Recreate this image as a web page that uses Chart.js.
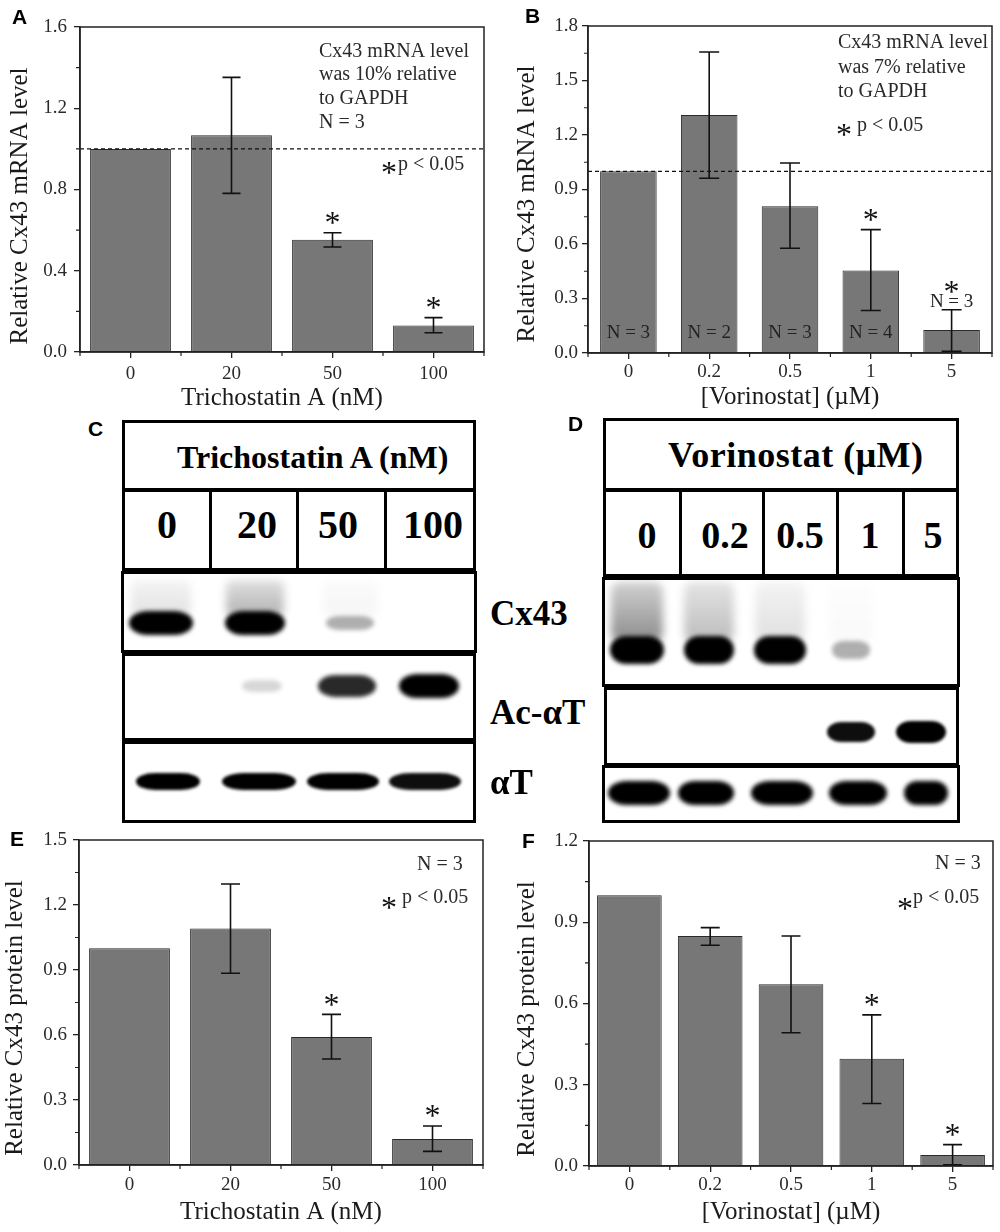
<!DOCTYPE html>
<html><head><meta charset="utf-8">
<script src="https://cdn.jsdelivr.net/npm/chart.js@4.4.1/dist/chart.umd.min.js"></script>
<style>
html,body{margin:0;padding:0;background:#fff;}
body{width:1000px;height:1232px;position:relative;overflow:hidden;font-family:"Liberation Serif","Times New Roman",serif;}
canvas{position:absolute;}
.letter{position:absolute;font-family:"Liberation Sans",Arial,sans-serif;font-weight:bold;font-size:21px;line-height:1;transform:translateY(-50%);}
.box{position:absolute;border:3px solid #000;box-sizing:border-box;overflow:hidden;background:#fff;}
.div{position:absolute;width:3px;background:#000;}
.band{position:absolute;border-radius:30%/50%;}
.t{position:absolute;font-weight:bold;line-height:1;white-space:nowrap;color:#000;}
</style>
</head><body>
<canvas id="cA" width="490" height="415" style="left:0;top:0"></canvas>
<canvas id="cB" width="510" height="415" style="left:490px;top:0"></canvas>
<canvas id="cE" width="490" height="432" style="left:0;top:800px"></canvas>
<canvas id="cF" width="510" height="432" style="left:490px;top:800px"></canvas>
<script>
// ---------- data ----------
const tsaDoses = ['0', '20', '50', '100'];
const vorDoses = ['0', '0.2', '0.5', '1', '5'];

const mrnaTsa   = [1.0, 1.067, 0.553, 0.131];
const mrnaTsaHi = [1.0, 1.352, 0.587, 0.169];
const mrnaTsaLo = [1.0, 0.781, 0.517, 0.095];
const mrnaTsaSig = [false, false, true, true];

const mrnaVor   = [1.0, 1.31, 0.808, 0.454, 0.126];
const mrnaVorHi = [1.0, 1.657, 1.046, 0.679, 0.238];
const mrnaVorLo = [1.0, 0.962, 0.577, 0.234, 0.009];
const mrnaVorSig = [false, false, false, true, true];
const mrnaVorN = ['N = 3', 'N = 2', 'N = 3', 'N = 4', 'N = 3'];

const protTsa   = [1.0, 1.092, 0.591, 0.12];
const protTsaHi = [1.0, 1.297, 0.695, 0.18];
const protTsaLo = [1.0, 0.885, 0.489, 0.063];
const protTsaSig = [false, false, true, true];

const protVor   = [1.0, 0.849, 0.671, 0.396, 0.041];
const protVorHi = [1.0, 0.88, 0.849, 0.558, 0.079];
const protVorLo = [1.0, 0.815, 0.492, 0.231, 0.004];
const protVorSig = [false, false, false, true, true];

// blot band intensities (0..1)
const blotTsaCx43      = [1.0, 1.0, 0.3, 0.0];
const blotTsaCx43Smear = [0.15, 0.4, 0.05, 0.0];
const blotTsaAcTub     = [0.0, 0.15, 0.8, 1.0];
const blotTsaTub       = [1.0, 0.95, 0.95, 0.9];
const blotVorCx43      = [1.0, 1.0, 0.95, 0.3, 0.0];
const blotVorCx43Smear = [0.6, 0.35, 0.16, 0.03, 0.0];
const blotVorAcTub     = [0.0, 0.0, 0.0, 0.9, 1.0];
const blotVorTub       = [1.0, 1.0, 1.0, 1.0, 0.95];

const SERIF = '"Liberation Serif","Times New Roman",serif';

// ---------- chart decoration plugin ----------
function drawStar(ctx, x, cy, size){
  ctx.font = size + 'px ' + SERIF;
  ctx.textAlign = 'center'; ctx.textBaseline = 'alphabetic';
  ctx.fillText('*', x, cy + 0.48 * size);
}
function decor(cfg){
  return {
    id: 'decor',
    afterDatasetsDraw(chart){
      const ctx = chart.ctx, xs = chart.scales.x, ys = chart.scales.y, ca = chart.chartArea;
      ctx.save();
      if (cfg.refLine != null){
        const py = ys.getPixelForValue(cfg.refLine);
        ctx.setLineDash([4, 3]); ctx.lineWidth = 1.1; ctx.strokeStyle = '#111';
        ctx.beginPath(); ctx.moveTo(ca.left, py); ctx.lineTo(ca.right, py); ctx.stroke();
        ctx.setLineDash([]);
      }
      ctx.strokeStyle = '#111'; ctx.lineWidth = 1.6;
      cfg.hi.forEach((h, i) => {
        const l = cfg.lo[i]; if (h === l) return;
        const px = xs.getPixelForValue(i), ph = ys.getPixelForValue(h), pl = ys.getPixelForValue(l);
        ctx.beginPath();
        ctx.moveTo(px, ph); ctx.lineTo(px, pl);
        ctx.moveTo(px - cfg.cap, ph); ctx.lineTo(px + cfg.cap, ph);
        ctx.moveTo(px - cfg.cap, pl); ctx.lineTo(px + cfg.cap, pl);
        ctx.stroke();
      });
      ctx.fillStyle = '#111';
      cfg.sig.forEach((s, i) => {
        if (!s) return;
        const labelAbove = cfg.nLabels && cfg.values[i] <= 0.2;
        drawStar(ctx, xs.getPixelForValue(i), ys.getPixelForValue(cfg.hi[i]) - (labelAbove ? 23 : 15), 32);
      });
      if (cfg.nLabels){
        ctx.font = '19px ' + SERIF; ctx.fillStyle = '#222';
        ctx.textAlign = 'center'; ctx.textBaseline = 'middle';
        cfg.nLabels.forEach((t, i) => {
          const px = xs.getPixelForValue(i);
          const py = cfg.values[i] > 0.2 ? ys.getPixelForValue(0) - 20 : ys.getPixelForValue(cfg.hi[i]) - 8;
          ctx.fillText(t, px, py);
        });
      }
      // frame
      ctx.lineWidth = 1.5; ctx.strokeStyle = '#222';
      ctx.strokeRect(ca.left, ca.top, ca.right - ca.left, ca.bottom - ca.top);
      // minor ticks on y
      ctx.lineWidth = 1.2;
      ctx.beginPath();
      const n = Math.round(cfg.max / cfg.minor);
      for (let k = 1; k < n; k++){
        const v = k * cfg.minor;
        if (Math.abs(v / cfg.step - Math.round(v / cfg.step)) < 1e-6) continue;
        const py = ys.getPixelForValue(v);
        ctx.moveTo(ca.left - 4, py); ctx.lineTo(ca.left, py);
      }
      // minor ticks on x at category boundaries
      const m = cfg.labels.length;
      for (let i = 0; i <= m; i++){
        let px;
        if (i === 0) px = ca.left; else if (i === m) px = ca.right;
        else px = (xs.getPixelForValue(i - 1) + xs.getPixelForValue(i)) / 2;
        ctx.moveTo(px, ca.bottom); ctx.lineTo(px, ca.bottom + 4);
      }
      ctx.stroke();
      // notes
      cfg.notes.forEach(nt => {
        if (nt.star){ ctx.fillStyle = '#111'; drawStar(ctx, nt.x, nt.y, 32); return; }
        ctx.fillStyle = '#2a2a2a'; ctx.textAlign = 'left'; ctx.textBaseline = 'middle';
        ctx.font = (nt.size || 20) + 'px ' + SERIF;
        ctx.fillText(nt.t, nt.x, nt.y);
      });
      // y title
      ctx.translate(cfg.yTitle.x, cfg.yTitle.y); ctx.rotate(-Math.PI / 2);
      ctx.font = '25px ' + SERIF; ctx.fillStyle = '#1a1a1a';
      ctx.textAlign = 'center'; ctx.textBaseline = 'middle';
      ctx.fillText(cfg.yTitle.text, 0, 0);
      ctx.restore();
    }
  };
}

function makeChart(id, cfg){
  const el = document.getElementById(id);
  const H = el.height, W = el.width;
  const tickFont = {family: SERIF, size: 19};
  return new Chart(el, {
    type: 'bar',
    data: {labels: cfg.labels, datasets: [{data: cfg.values, backgroundColor: '#777777', borderColor: '#2a2a2a', borderWidth: 1, barPercentage: cfg.barPct, categoryPercentage: 1}]},
    options: {
      responsive: false, animation: false, events: [],
      layout: {padding: {top: cfg.area.top, right: W - cfg.area.right, left: 0, bottom: 0}},
      plugins: {legend: {display: false}, tooltip: {enabled: false}},
      scales: {
        x: {
          type: 'category', offset: true,
          grid: {display: true, offset: false, drawOnChartArea: false, drawTicks: true, tickLength: 6, color: '#222', lineWidth: 1.3},
          border: {display: true, color: '#222', width: 1.5},
          ticks: {font: tickFont, color: '#2a2a2a', padding: cfg.xPad, maxRotation: 0, autoSkip: false},
          title: {display: true, text: cfg.xTitle, font: {family: SERIF, size: 25}, color: '#1a1a1a', padding: {top: 0, bottom: cfg.xTitlePad}},
          afterFit(s){ s.height = H - cfg.area.bottom; }
        },
        y: {
          type: 'linear', min: 0, max: cfg.max,
          ticks: {stepSize: cfg.step, callback: v => Number(v).toFixed(1), font: tickFont, color: '#2a2a2a', padding: cfg.yPad},
          grid: {drawOnChartArea: false, drawTicks: true, tickLength: 6, color: '#222', lineWidth: 1.3},
          border: {display: true, color: '#222', width: 1.5},
          afterFit(s){ s.width = cfg.area.left; }
        }
      }
    },
    plugins: [decor(cfg)]
  });
}

makeChart('cA', {
  labels: tsaDoses, values: mrnaTsa, hi: mrnaTsaHi, lo: mrnaTsaLo, sig: mrnaTsaSig,
  max: 1.6, step: 0.4, minor: 0.2, barPct: 0.8, cap: 9, refLine: 1.0,
  area: {left: 80, top: 27, right: 484, bottom: 352}, xPad: 5, yPad: 7, xTitlePad: 2,
  xTitle: 'Trichostatin A (nM)',
  yTitle: {text: 'Relative Cx43 mRNA level', x: 20, y: 206},
  notes: [
    {t: 'Cx43 mRNA level', x: 319, y: 52}, {t: 'was 10% relative', x: 319, y: 75},
    {t: 'to GAPDH', x: 319, y: 99}, {t: 'N = 3', x: 319, y: 123},
    {star: true, x: 389, y: 168}, {t: 'p < 0.05', x: 398, y: 165}
  ]
});
makeChart('cB', {
  labels: vorDoses, values: mrnaVor, hi: mrnaVorHi, lo: mrnaVorLo, sig: mrnaVorSig, nLabels: mrnaVorN,
  max: 1.8, step: 0.3, minor: 0.15, barPct: 0.7, cap: 10, refLine: 1.0,
  area: {left: 98, top: 26, right: 502, bottom: 353}, xPad: 2, yPad: 4, xTitlePad: 3,
  xTitle: '[Vorinostat] (\u00b5M)',
  yTitle: {text: 'Relative Cx43 mRNA level', x: 37, y: 204},
  notes: [
    {t: 'Cx43 mRNA level', x: 348, y: 43}, {t: 'was 7% relative', x: 348, y: 68},
    {t: 'to GAPDH', x: 348, y: 92},
    {star: true, x: 354, y: 130}, {t: 'p < 0.05', x: 367, y: 126}
  ]
});
makeChart('cE', {
  labels: tsaDoses, values: protTsa, hi: protTsaHi, lo: protTsaLo, sig: protTsaSig,
  max: 1.5, step: 0.3, minor: 0.15, barPct: 0.8, cap: 9.5, refLine: null,
  area: {left: 79, top: 40, right: 483, bottom: 365}, xPad: 3, yPad: 6, xTitlePad: 5,
  xTitle: 'Trichostatin A (nM)',
  yTitle: {text: 'Relative Cx43 protein level', x: 15, y: 218},
  notes: [
    {t: 'N = 3', x: 417, y: 65},
    {star: true, x: 389, y: 103}, {t: 'p < 0.05', x: 402, y: 98}
  ]
});
makeChart('cF', {
  labels: vorDoses, values: protVor, hi: protVorHi, lo: protVorLo, sig: protVorSig,
  max: 1.2, step: 0.3, minor: 0.15, barPct: 0.8, cap: 9.5, refLine: null,
  area: {left: 99, top: 41, right: 503, bottom: 366}, xPad: 2, yPad: 5, xTitlePad: 5,
  xTitle: '[Vorinostat] (\u00b5M)',
  yTitle: {text: 'Relative Cx43 protein level', x: 37, y: 219},
  notes: [
    {t: 'N = 3', x: 445, y: 64},
    {star: true, x: 415, y: 104}, {t: 'p < 0.05', x: 423, y: 98}
  ]
});

// ---------- western blot panels (HTML) ----------
function mk(cls, l, t, w, h, parent){
  const d = document.createElement('div'); d.className = cls;
  Object.assign(d.style, {left: l + 'px', top: t + 'px'});
  if (w != null) d.style.width = w + 'px';
  if (h != null) d.style.height = h + 'px';
  (parent || document.body).appendChild(d); return d;
}
function text(str, x, y, size, anchor, ls){
  const d = document.createElement('div'); d.className = 't'; d.textContent = str;
  d.style.fontSize = size + 'px';
  if (ls) d.style.letterSpacing = ls + 'px';
  d.style.left = x + 'px'; d.style.top = y + 'px';
  d.style.transform = anchor === 'center' ? 'translate(-50%,-50%)' : 'translateY(-50%)';
  document.body.appendChild(d); return d;
}
function bandRow(boxEl, boxL, boxT, lanes, widths, cy, h, vals, blur, hScale){
  vals.forEach((v, i) => {
    if (v <= 0) return;
    const w = widths[i] * (0.75 + 0.25 * v);
    const hh = h * (hScale ? (0.45 + 0.55 * v) : 1);
    const b = mk('band', lanes[i] - w / 2 - boxL - 3, cy - hh / 2 - boxT - 3, w, hh, boxEl);
    b.style.background = 'rgba(0,0,0,' + Math.min(1, v * 1.05) + ')';
    b.style.filter = 'blur(' + blur + 'px)';
  });
}
function smearRow(boxEl, boxL, boxT, lanes, widths, y0, y1, vals){
  vals.forEach((v, i) => {
    if (v <= 0) return;
    const b = mk('band', lanes[i] - widths[i] / 2 - boxL - 3, y0 - boxT - 3, widths[i], y1 - y0, boxEl);
    b.style.borderRadius = '15%';
    b.style.background = 'linear-gradient(to bottom, rgba(0,0,0,' + (v * 0.3) + '), rgba(0,0,0,' + (v * 0.75) + '))';
    b.style.filter = 'blur(4px)';
  });
}

// panel C
mk('box', 122, 420, 354, 71);
text('Trichostatin A (nM)', 177, 457, 32);
mk('box', 122, 489, 354, 82);
[210, 297, 385].forEach(x => mk('div', x - 1.5, 489, null, 82));
[167, 257, 338, 433].forEach((x, i) => text(tsaDoses[i], x, 525, 40, 'center'));
const cCx = mk('box', 121, 571, 356, 82);
smearRow(cCx, 121, 571, [161, 255, 350, 430], [60, 58, 55, 55], 580, 616, blotTsaCx43Smear);
bandRow(cCx, 121, 571, [161, 255, 350, 430], [64, 60, 58, 55], 623, 24, blotTsaCx43, 2.2, true);
const cAc = mk('box', 122, 653, 354, 88);
bandRow(cAc, 122, 653, [175, 262, 347, 429], [55, 52, 62, 60], 686, 24, blotTsaAcTub, 2.2, true);
const cTb = mk('box', 122, 741, 354, 82);
bandRow(cTb, 122, 741, [168, 259, 343, 425], [64, 74, 73, 74], 781, 17, blotTsaTub, 1.8, false);

// panel D
mk('box', 603, 418, 356, 73);
text('Vorinostat (\u03bcM)', 668, 455, 36, null, 0.5);
mk('box', 603, 489, 356, 88);
[680, 763, 837, 903].forEach(x => mk('div', x - 1.5, 489, null, 88));
[647, 725, 800, 870, 933].forEach((x, i) => text(vorDoses[i], x, 535, 38, 'center'));
const dCx = mk('box', 602, 577, 358, 110);
smearRow(dCx, 602, 577, [637, 709, 780, 851, 921], [52, 50, 50, 44, 40], 582, 642, blotVorCx43Smear);
bandRow(dCx, 602, 577, [637, 709, 780, 851, 921], [54, 50, 52, 46, 40], 650, 28, blotVorCx43, 2.2, true);
const dAc = mk('box', 604, 687, 355, 79);
bandRow(dAc, 604, 687, [637, 709, 780, 851, 921], [48, 48, 48, 50, 50], 732, 22, blotVorAcTub, 1.8, true);
const dTb = mk('box', 602, 765, 358, 58);
bandRow(dTb, 602, 765, [639, 706, 782, 858, 926], [62, 56, 62, 58, 44], 793, 24, blotVorTub, 2.0, false);

// blot row labels
text('Cx43', 490, 613, 35);
text('Ac-\u03b1T', 490, 712, 35);
text('\u03b1T', 490, 782, 35);

// panel letters
[['A', 12, 16], ['B', 525, 15], ['C', 88, 428], ['D', 568, 423], ['E', 10, 838], ['F', 522, 840]].forEach(([s, x, y]) => {
  const d = document.createElement('div'); d.className = 'letter'; d.textContent = s;
  d.style.left = x + 'px'; d.style.top = y + 'px'; document.body.appendChild(d);
});
</script>
</body></html>
